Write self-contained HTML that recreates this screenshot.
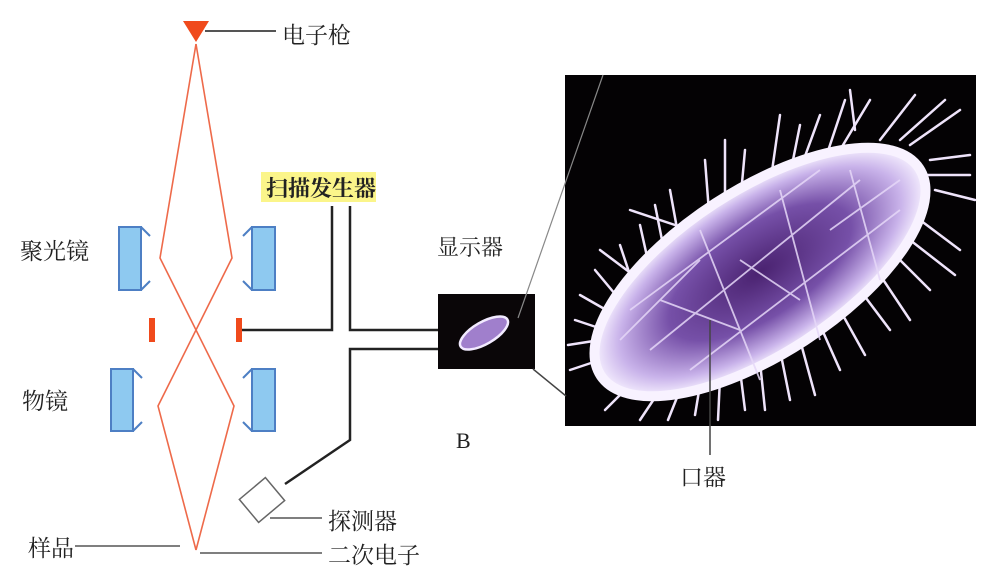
<!DOCTYPE html>
<html><head><meta charset="utf-8"><style>
html,body{margin:0;padding:0;background:#fff;}
svg{display:block;}
text{font-family:"Liberation Serif","Noto Serif CJK SC","Noto Sans CJK SC",serif;fill:#222;}
</style></head><body>
<svg width="984" height="584" viewBox="0 0 984 584">
<defs>
<radialGradient id="cellg" cx="50%" cy="50%" r="50%">
<stop offset="0" stop-color="#4a2270"/><stop offset="0.55" stop-color="#7650a8"/><stop offset="0.85" stop-color="#c9b3ea"/><stop offset="1" stop-color="#f6f0ff"/>
</radialGradient>
</defs>
<!-- electron gun -->
<polygon points="183,21 209,21 196,42" fill="#f04a1c"/>
<line x1="205" y1="31" x2="276" y2="31" stroke="#555" stroke-width="2"/>
<text x="282" y="43" font-size="23">电子枪</text>
<!-- beam -->
<g stroke="#ee6a4a" stroke-width="1.6" fill="none">
<polyline points="196,44 160,258 234,406 196,550"/>
<polyline points="196,44 232,258 158,406 196,550"/>
</g>
<!-- condenser lenses -->
<g>
<rect x="119" y="227" width="22" height="63" fill="#8ec9f0" stroke="#4d7fc4" stroke-width="2"/>
<polyline points="141,227 150,236" stroke="#4d7fc4" stroke-width="2" fill="none"/>
<polyline points="141,290 150,281" stroke="#4d7fc4" stroke-width="2" fill="none"/>
<rect x="252" y="227" width="23" height="63" fill="#8ec9f0" stroke="#4d7fc4" stroke-width="2"/>
<polyline points="252,227 243,236" stroke="#4d7fc4" stroke-width="2" fill="none"/>
<polyline points="252,290 243,281" stroke="#4d7fc4" stroke-width="2" fill="none"/>
</g>
<text x="20" y="259" font-size="23">聚光镜</text>
<!-- apertures -->
<rect x="149" y="318" width="6" height="24" fill="#f04a1c"/>
<rect x="236" y="318" width="6" height="24" fill="#f04a1c"/>
<!-- objective lenses -->
<g>
<rect x="111" y="369" width="22" height="62" fill="#8ec9f0" stroke="#4d7fc4" stroke-width="2"/>
<polyline points="133,369 142,378" stroke="#4d7fc4" stroke-width="2" fill="none"/>
<polyline points="133,431 142,422" stroke="#4d7fc4" stroke-width="2" fill="none"/>
<rect x="252" y="369" width="23" height="62" fill="#8ec9f0" stroke="#4d7fc4" stroke-width="2"/>
<polyline points="252,369 243,378" stroke="#4d7fc4" stroke-width="2" fill="none"/>
<polyline points="252,431 243,422" stroke="#4d7fc4" stroke-width="2" fill="none"/>
</g>
<text x="22" y="409" font-size="23">物镜</text>
<!-- scan generator -->
<rect x="261" y="172" width="115" height="30" fill="#fbf58a"/>
<text x="266" y="196" font-size="22" font-weight="bold">扫描发生器</text>
<g stroke="#222" stroke-width="2.5" fill="none">
<polyline points="242,330 332,330 332,206"/>
<polyline points="350,206 350,330 440,330"/>
<polyline points="440,349 350,349 350,440 285,484"/>
</g>
<!-- detector -->
<g transform="translate(262,500) rotate(-40)">
<rect x="-17" y="-15" width="34" height="30" fill="#fff" stroke="#666" stroke-width="1.5"/>
</g>
<line x1="270" y1="518" x2="322" y2="518" stroke="#555" stroke-width="1.5"/>
<text x="328" y="529" font-size="23">探测器</text>
<!-- sample -->
<line x1="75" y1="546" x2="180" y2="546" stroke="#555" stroke-width="1.5"/>
<text x="28" y="556" font-size="23">样品</text>
<line x1="200" y1="553" x2="322" y2="553" stroke="#555" stroke-width="1.5"/>
<text x="328" y="563" font-size="23">二次电子</text>
<!-- display -->
<text x="437" y="255" font-size="22">显示器</text>
<rect x="438" y="294" width="97" height="75" fill="#0a0608"/>
<ellipse cx="484" cy="333" rx="27" ry="11" transform="rotate(-30 484 333)" fill="#a07fcc" stroke="#f2eaff" stroke-width="2.5"/>
<text x="456" y="448" font-size="22" font-family="Liberation Sans,sans-serif">B</text>
<!-- big image -->
<rect x="565" y="75" width="411" height="351" fill="#040204"/>
<g stroke="#efe4fb" stroke-width="2.5" stroke-linecap="round">
<line x1="600" y1="360" x2="570" y2="370"/><line x1="605" y1="330" x2="575" y2="320"/>
<line x1="620" y1="300" x2="595" y2="270"/><line x1="650" y1="270" x2="640" y2="225"/>
<line x1="680" y1="245" x2="670" y2="190"/><line x1="710" y1="225" x2="705" y2="160"/>
<line x1="740" y1="205" x2="745" y2="150"/><line x1="770" y1="185" x2="780" y2="115"/>
<line x1="800" y1="170" x2="820" y2="115"/><line x1="840" y1="150" x2="870" y2="100"/>
<line x1="880" y1="140" x2="915" y2="95"/><line x1="910" y1="145" x2="960" y2="110"/>
<line x1="930" y1="160" x2="970" y2="155"/><line x1="935" y1="190" x2="975" y2="200"/>
<line x1="920" y1="220" x2="960" y2="250"/><line x1="895" y1="255" x2="930" y2="290"/>
<line x1="860" y1="290" x2="890" y2="330"/><line x1="820" y1="325" x2="840" y2="370"/>
<line x1="780" y1="350" x2="790" y2="400"/><line x1="740" y1="370" x2="745" y2="410"/>
<line x1="700" y1="385" x2="695" y2="415"/><line x1="660" y1="390" x2="640" y2="420"/>
<line x1="630" y1="385" x2="605" y2="410"/><line x1="855" y1="130" x2="850" y2="90"/>
<line x1="690" y1="230" x2="630" y2="210"/><line x1="640" y1="280" x2="600" y2="250"/>
<line x1="600" y1="340" x2="568" y2="345"/><line x1="615" y1="315" x2="580" y2="295"/>
<line x1="635" y1="290" x2="620" y2="245"/><line x1="665" y1="255" x2="655" y2="205"/>
<line x1="725" y1="215" x2="725" y2="140"/><line x1="790" y1="175" x2="800" y2="125"/>
<line x1="825" y1="160" x2="845" y2="100"/><line x1="900" y1="140" x2="945" y2="100"/>
<line x1="925" y1="175" x2="970" y2="175"/><line x1="910" y1="240" x2="955" y2="275"/>
<line x1="880" y1="275" x2="910" y2="320"/><line x1="840" y1="310" x2="865" y2="355"/>
<line x1="800" y1="340" x2="815" y2="395"/><line x1="760" y1="362" x2="765" y2="410"/>
<line x1="720" y1="378" x2="718" y2="420"/><line x1="680" y1="390" x2="668" y2="420"/>
</g>
<ellipse cx="760" cy="272" rx="190" ry="82" transform="rotate(-33 760 272)" fill="url(#cellg)" stroke="#f8f2ff" stroke-width="10"/>
<g stroke="#e6d8f8" stroke-width="1.8" opacity="0.85">
<line x1="650" y1="350" x2="860" y2="180"/><line x1="630" y1="310" x2="820" y2="170"/>
<line x1="690" y1="370" x2="900" y2="210"/><line x1="700" y1="230" x2="760" y2="380"/>
<line x1="780" y1="190" x2="820" y2="340"/><line x1="850" y1="170" x2="880" y2="280"/>
<line x1="620" y1="340" x2="700" y2="260"/><line x1="740" y1="260" x2="800" y2="300"/>
<line x1="660" y1="300" x2="740" y2="330"/><line x1="830" y1="230" x2="900" y2="180"/>
</g>
<line x1="518" y1="318" x2="603" y2="75" stroke="#888" stroke-width="1.2"/>
<line x1="533" y1="369" x2="566" y2="396" stroke="#444" stroke-width="1.5"/>
<line x1="710" y1="320" x2="710" y2="455" stroke="#444" stroke-width="1.5"/>
<text x="680" y="485" font-size="23">口器</text>
</svg>
</body></html>
